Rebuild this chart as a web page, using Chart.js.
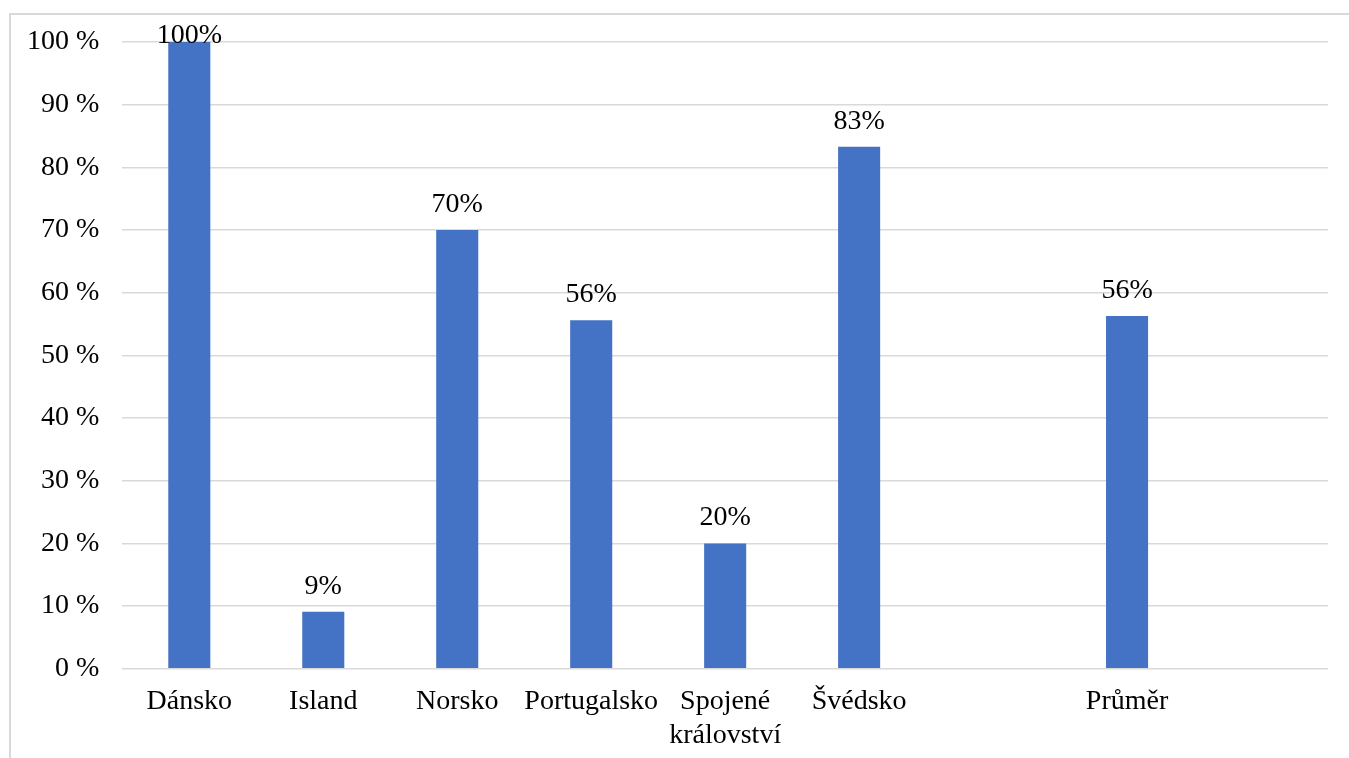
<!DOCTYPE html>
<html>
<head>
<meta charset="utf-8">
<script src="https://cdn.jsdelivr.net/npm/chart.js@4"></script>
<style>
  html, body { margin: 0; padding: 0; background: #fff; }
  #wrap { position: relative; width: 1349px; height: 758px; overflow: hidden; }
  #frame { position: absolute; left: 9px; top: 13px; width: 1400px; height: 800px;
           border-top: 2px solid #d9d9d9; border-left: 2px solid #d9d9d9; }
  #bar { position: absolute; left: 0; top: 0; }
</style>
</head>
<body>
<div id="wrap">
  <div id="frame"></div>
  <canvas id="bar" width="1349" height="758"></canvas>
</div>
<script>
// země + průměr, dvě prázdné kategorie kvůli mezerám
const zeme = ['Dánsko', 'Island', 'Norsko', 'Portugalsko', ['Spojené', 'království'], 'Švédsko', '', 'Průměr', ''];
const podil = [100, 9.1, 70, 55.6, 20, 83.3, null, 56.3, null];
const osaY = [0, 10, 20, 30, 40, 50, 60, 70, 80, 90, 100];

const pismo = { family: '"Liberation Serif", "Times New Roman", serif', size: 28 };

// popisky hodnot nad sloupci
const hodnoty = {
    id: 'hodnoty',
    afterDatasetsDraw(chart) {
        const ctx = chart.ctx;
        const meta = chart.getDatasetMeta(0);
        ctx.save();
        ctx.font = pismo.size + 'px ' + pismo.family;
        ctx.fillStyle = '#000';
        ctx.textAlign = 'center';
        ctx.textBaseline = 'alphabetic';
        meta.data.forEach((el, i) => {
            const v = podil[i];
            if (v === null) return;
            const y = Math.max(el.y - 18, chart.chartArea.top + 1);
            ctx.fillText(Math.round(v) + '%', el.x, y);
        });
        ctx.restore();
    }
};

const ctx1 = document.getElementById('bar').getContext('2d');
const chart = new Chart(ctx1, {
    type: 'bar',
    data: {
        labels: zeme,
        datasets: [{
            data: podil,
            backgroundColor: '#4472c4',
            borderWidth: 0,
            categoryPercentage: 1,
            barPercentage: 0.314,
        }],
    },
    options: {
        responsive: false,
        animation: false,
        layout: { padding: { left: 4, right: 21, top: 42, bottom: -10 } },
        plugins: { legend: { display: false }, tooltip: { enabled: false } },
        scales: {
            x: {
                grid: { display: false, drawTicks: false },
                border: { display: false },
                ticks: { color: '#000', font: pismo, padding: 16, maxRotation: 0, autoSkip: false },
            },
            y: {
                min: 0,
                max: 100,
                afterBuildTicks(axis) { axis.ticks = osaY.map(v => ({ value: v })); },
                grid: { color: '#d9d9d9', lineWidth: 1.5, drawTicks: false },
                border: { display: false },
                ticks: { color: '#000', font: pismo, padding: 23, callback: v => v + ' %' },
            },
        },
    },
    plugins: [hodnoty],
});
</script>
</body>
</html>
